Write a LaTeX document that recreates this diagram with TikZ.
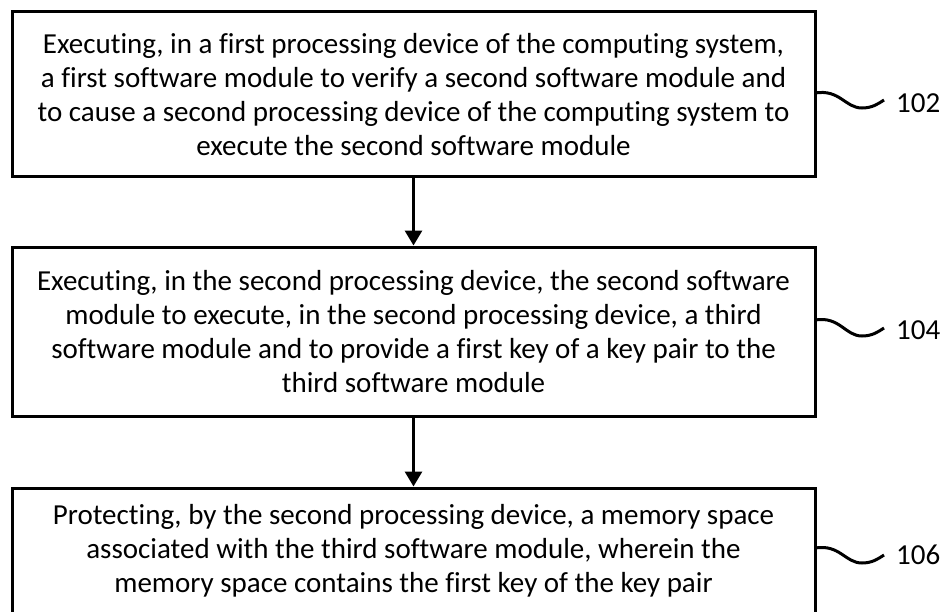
\documentclass[tikz,border=0pt]{standalone}
\usepackage{fontspec}
\setmainfont[Ligatures=NoCommon]{Carlito}
\usetikzlibrary{arrows.meta}
\begin{document}
\begin{tikzpicture}[x=1pt,y=-1pt,
  stepbox/.style={draw=black,line width=3pt,align=center,inner sep=0pt,
    font=\fontsize{29pt}{34pt}\selectfont},
  flow/.style={line width=3pt,-{Triangle[length=15pt,width=17pt]}},
  tilde/.style={line width=3pt},
  reflabel/.style={font=\fontsize{29pt}{34pt}\selectfont,anchor=west,inner sep=0pt}]
\clip (0,0) rectangle (949,612);
\fill[white] (0,0) rectangle (949,612);
\node[stepbox,minimum width=803pt,minimum height=165pt] (b1) at (413.5,94.5)
  {Executing, in a first processing device of the computing system,\\
   a first software module to verify a second software module and\\
   to cause a second processing device of the computing system to\\
   execute the second software module};
\node[stepbox,minimum width=803pt,minimum height=169pt] (b2) at (413.5,331.5)
  {Executing, in the second processing device, the second software\\
   module to execute, in the second processing device, a third\\
   software module and to provide a first key of a key pair to the\\
   third software module};
\node[stepbox,minimum width=803pt,minimum height=126pt] (b3) at (413.5,551)
  {Protecting, by the second processing device, a memory space\\
   associated with the third software module, wherein the\\
   memory space contains the first key of the key pair};
\draw[flow] (b1.south) -- (b2.north);
\draw[flow] (b2.south) -- (b3.north);
% reference labels
\node[reflabel] (l1) at (896,103) {102};
\node[reflabel] (l2) at (896,330) {104};
\node[reflabel] (l3) at (896,555) {106};
\coordinate (t1) at (815,93);
\coordinate (t2) at (815,320);
\coordinate (t3) at (815,548);
\coordinate (e1) at (884,100);
\coordinate (e2) at (884,328);
\coordinate (e3) at (884,555);
\draw[tilde] (t1) .. controls (840,89) and (845,108) .. (862,108) .. controls (872,108) and (878,104) .. (e1);
\draw[tilde] (t2) .. controls (840,316) and (845,336) .. (862,336) .. controls (872,336) and (878,332) .. (e2);
\draw[tilde] (t3) .. controls (840,544) and (845,563) .. (862,563) .. controls (872,563) and (878,559) .. (e3);
\end{tikzpicture}
\end{document}
